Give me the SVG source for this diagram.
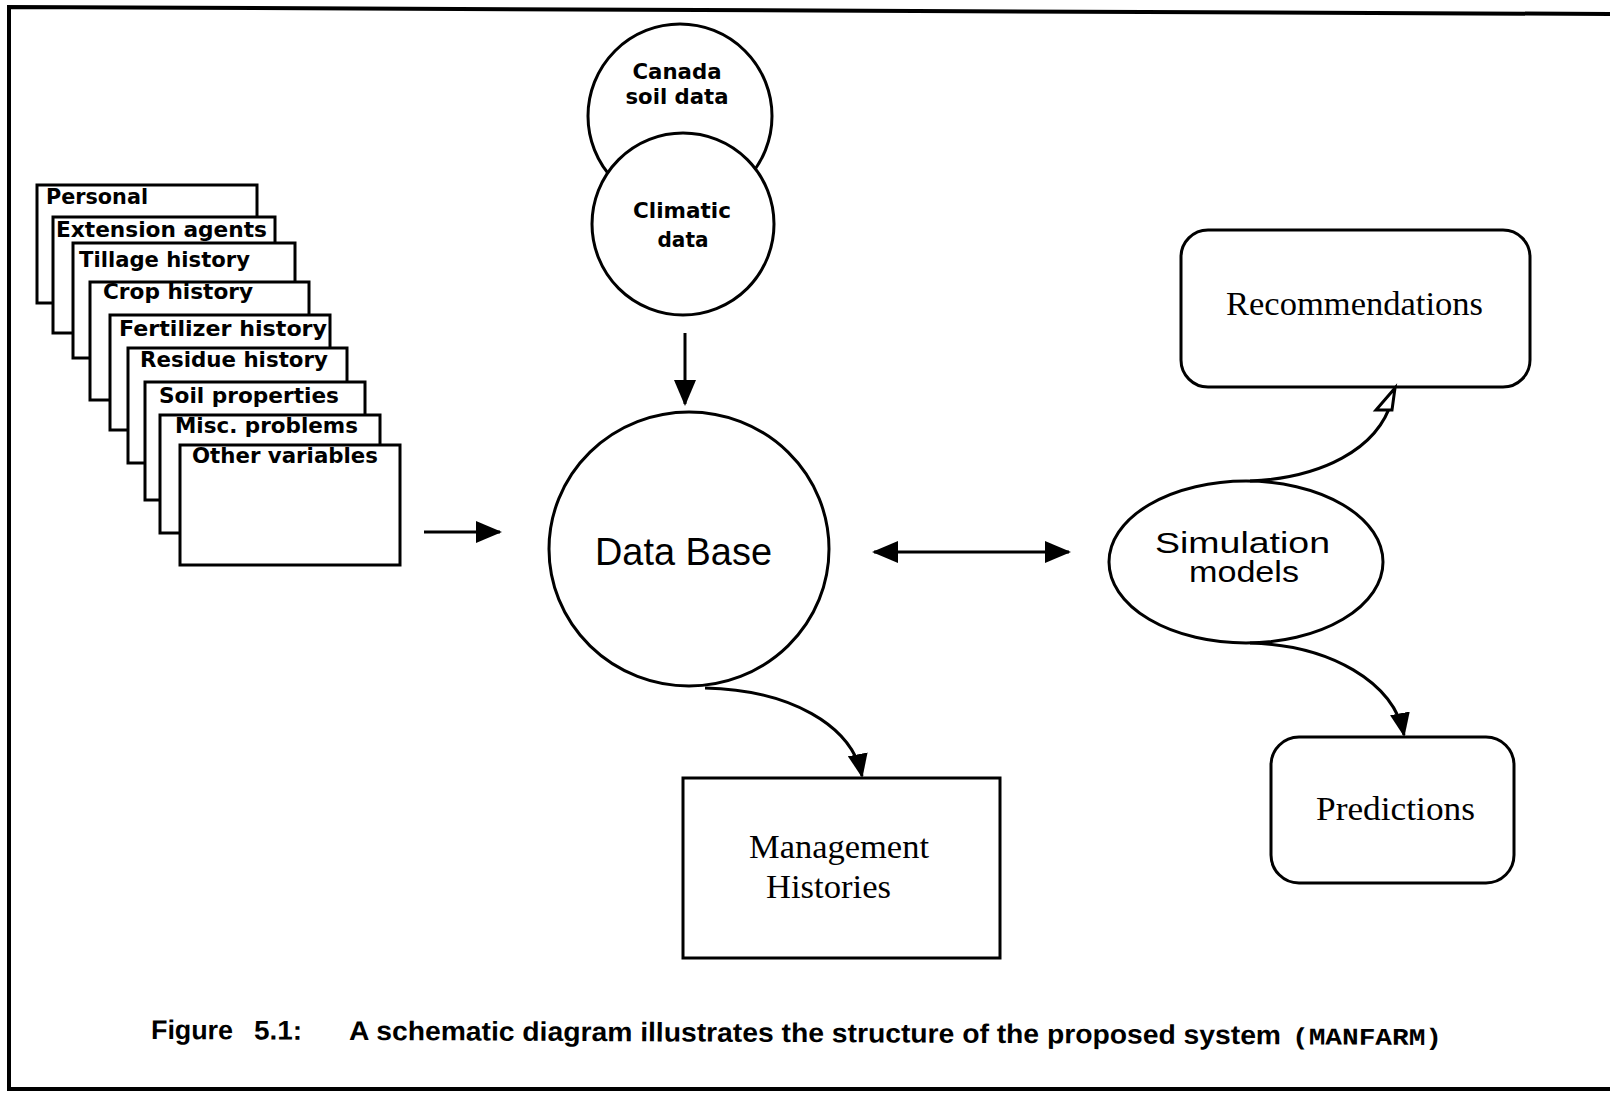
<svg xmlns="http://www.w3.org/2000/svg" width="1610" height="1093" viewBox="0 0 1610 1093">
<style>
.card{fill:#fff;stroke:#000;stroke-width:3}
.ct{font-family:"DejaVu Sans",sans-serif;font-weight:bold;font-size:22px;fill:#000}
.node{fill:#fff;stroke:#000;stroke-width:3}
.sans{font-family:"Liberation Sans",Arial,sans-serif;fill:#000}
.serif{font-family:"Liberation Serif","Times New Roman",serif;font-size:34px;fill:#000}
.conn{fill:none;stroke:#000;stroke-width:3}
.cap{font-family:"Liberation Sans",Arial,sans-serif;font-weight:bold;font-size:27px;fill:#000}
.mono{font-family:"Liberation Mono","Courier New",monospace;font-weight:bold;font-size:24px;fill:#000}
</style>
<defs>
<marker id="ah" markerUnits="userSpaceOnUse" markerWidth="26" markerHeight="22" refX="24" refY="11" orient="auto-start-reverse">
<path d="M0,0 L26,11 L0,22 z" fill="#000"/>
</marker>
<marker id="ahc" markerUnits="userSpaceOnUse" markerWidth="24" markerHeight="20" refX="22" refY="10" orient="auto">
<path d="M0,0 L24,10 L0,20 z" fill="#000"/>
</marker>
</defs>
<rect width="1610" height="1093" fill="#fff"/>
<path d="M1610,14 L9,7 L9,1089 L1610,1089" fill="none" stroke="#000" stroke-width="4"/>

<g id="cards">
<g id="card-personal"><rect class="card" x="37" y="185" width="220" height="118"/><text class="ct" x="46" y="204" textLength="102" lengthAdjust="spacingAndGlyphs">Personal</text></g>
<g id="card-extension"><rect class="card" x="53" y="217" width="222" height="116"/><text class="ct" x="56" y="237" textLength="211" lengthAdjust="spacingAndGlyphs">Extension agents</text></g>
<g id="card-tillage"><rect class="card" x="73" y="243" width="222" height="115"/><text class="ct" x="79" y="267" textLength="171" lengthAdjust="spacingAndGlyphs">Tillage history</text></g>
<g id="card-crop"><rect class="card" x="90" y="282" width="219" height="118"/><text class="ct" x="103" y="299" textLength="150" lengthAdjust="spacingAndGlyphs">Crop history</text></g>
<g id="card-fertilizer"><rect class="card" x="110" y="315" width="220" height="115"/><text class="ct" x="119" y="336" textLength="208" lengthAdjust="spacingAndGlyphs">Fertilizer history</text></g>
<g id="card-residue"><rect class="card" x="128" y="348" width="219" height="115"/><text class="ct" x="140" y="367" textLength="188" lengthAdjust="spacingAndGlyphs">Residue history</text></g>
<g id="card-soil"><rect class="card" x="145" y="382" width="220" height="118"/><text class="ct" x="159" y="403" textLength="180" lengthAdjust="spacingAndGlyphs">Soil properties</text></g>
<g id="card-misc"><rect class="card" x="160" y="415" width="220" height="118"/><text class="ct" x="175" y="433" textLength="183" lengthAdjust="spacingAndGlyphs">Misc. problems</text></g>
<g id="card-other"><rect class="card" x="180" y="445" width="220" height="120"/><text class="ct" x="192" y="463" textLength="186" lengthAdjust="spacingAndGlyphs">Other variables</text></g>
</g>

<g id="canada-soil">
<circle class="node" cx="680" cy="116" r="92"/>
<text class="ct" x="677" y="79" text-anchor="middle" textLength="89" lengthAdjust="spacingAndGlyphs">Canada</text>
<text class="ct" x="677" y="104" text-anchor="middle" textLength="103" lengthAdjust="spacingAndGlyphs">soil data</text>
</g>
<g id="climatic">
<circle class="node" cx="683" cy="224" r="91"/>
<text class="ct" x="682" y="218" text-anchor="middle" textLength="98" lengthAdjust="spacingAndGlyphs">Climatic</text>
<text class="ct" x="683" y="247" text-anchor="middle" textLength="51" lengthAdjust="spacingAndGlyphs">data</text>
</g>

<g id="database">
<ellipse class="node" cx="689" cy="549" rx="140" ry="137"/>
<text class="sans" x="595" y="565" font-size="38" textLength="177" lengthAdjust="spacingAndGlyphs">Data Base</text>
</g>

<g id="simulation">
<ellipse class="node" cx="1246" cy="562" rx="137" ry="81"/>
<text class="sans" x="1155" y="553" font-size="29" textLength="175" lengthAdjust="spacingAndGlyphs">Simulation</text>
<text class="sans" x="1189" y="582" font-size="29" textLength="110" lengthAdjust="spacingAndGlyphs">models</text>
</g>

<g id="recommendations">
<rect class="node" x="1181" y="230" width="349" height="157" rx="27" ry="27"/>
<text class="serif" x="1226" y="315" textLength="257" lengthAdjust="spacingAndGlyphs">Recommendations</text>
</g>

<g id="predictions">
<rect class="node" x="1271" y="737" width="243" height="146" rx="28" ry="28"/>
<text class="serif" x="1316" y="820" textLength="159" lengthAdjust="spacingAndGlyphs">Predictions</text>
</g>

<g id="management">
<rect class="node" x="683" y="778" width="317" height="180"/>
<text class="serif" x="749" y="858" textLength="180" lengthAdjust="spacingAndGlyphs">Management</text>
<text class="serif" x="766" y="898" textLength="125" lengthAdjust="spacingAndGlyphs">Histories</text>
</g>

<g id="connectors">
<line class="conn" x1="685" y1="333" x2="685" y2="404" marker-end="url(#ah)"/>
<line class="conn" x1="424" y1="532" x2="500" y2="532" marker-end="url(#ah)"/>
<line class="conn" x1="874" y1="552" x2="1069" y2="552" marker-start="url(#ah)" marker-end="url(#ah)"/>
<path class="conn" d="M705,688 C790,690 852,725 862,776" marker-end="url(#ahc)"/>
<path class="conn" d="M1250,643 C1330,645 1394,682 1404,735" marker-end="url(#ahc)"/>
<path class="conn" d="M1250,481 C1320,478 1378,450 1392,400"/>
<polygon points="1395,388 1376,410 1392,410" fill="#fff" stroke="#000" stroke-width="3" stroke-linejoin="miter"/>
</g>

<g id="caption" transform="rotate(0.27 151 1039)">
<text class="cap" x="151" y="1039" textLength="82" lengthAdjust="spacingAndGlyphs">Figure</text>
<text class="cap" x="254" y="1039" textLength="48" lengthAdjust="spacingAndGlyphs">5.1:</text>
<text class="cap" x="349" y="1039" textLength="932" lengthAdjust="spacingAndGlyphs">A schematic diagram illustrates the structure of the proposed system</text>
<text class="mono" x="1292" y="1039" textLength="150" lengthAdjust="spacingAndGlyphs">(MANFARM)</text>
</g>
</svg>
